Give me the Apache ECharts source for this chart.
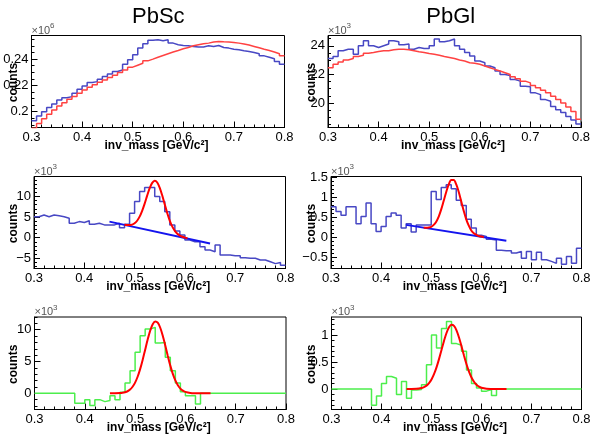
<!DOCTYPE html>
<html><head><meta charset="utf-8">
<script src="https://cdn.jsdelivr.net/npm/echarts@6/dist/echarts.min.js"></script>
<style>html,body{margin:0;padding:0;background:#fff}#c{width:591px;height:434px}</style>
</head><body><div id="c"></div>
<script>
// ---------- DATA ----------
const binLow = 0.3, binWidth = 0.01;
const xTickLabels = [0.3, 0.4, 0.5, 0.6, 0.7, 0.8];
const panelTitles = ['PbSc', 'PbGl'];
const xTitle = 'inv_mass [GeV/c²]';
const yTitle = 'counts';

// top row: same-event (blue) and mixed-event (red) spectra
const pbscSameEvt = [0.1931,0.1967,0.2000,0.2033,0.2059,0.2089,0.2107,0.2115,0.2140,0.2171,0.2196,0.2222,0.2229,0.2247,0.2268,0.2288,0.2306,0.2318,0.2362,0.2395,0.2433,0.2484,0.2517,0.2543,0.2548,0.2540,0.2548,0.2522,0.2510,0.2504,0.2502,0.2497,0.2492,0.2492,0.2502,0.2497,0.2504,0.2489,0.2484,0.2476,0.2471,0.2464,0.2459,0.2451,0.2441,0.2425,0.2415,0.2403,0.2382,0.2362];
const pbscMixedEvt = [0.1875,0.1911,0.1946,0.1980,0.2013,0.2043,0.2069,0.2094,0.2115,0.2140,0.2166,0.2186,0.2206,0.2224,0.2242,0.2260,0.2278,0.2298,0.2318,0.2339,0.2354,0.2369,0.2387,0.2400,0.2415,0.2428,0.2441,0.2454,0.2466,0.2479,0.2489,0.2502,0.2510,0.2517,0.2522,0.2530,0.2535,0.2532,0.2530,0.2527,0.2522,0.2515,0.2507,0.2497,0.2487,0.2476,0.2466,0.2454,0.2441,0.2425];
const pbglSameEvt = [23.11,23.25,23.65,23.76,23.76,23.41,24.0,24.35,24.0,23.88,24.0,24.12,24.35,24.28,24.07,24.12,23.76,23.88,23.81,23.81,24.0,24.47,24.28,24.35,24.47,24.0,23.76,23.53,23.29,22.94,22.82,22.59,22.47,22.24,22.0,21.93,21.65,21.53,21.18,21.13,20.71,20.59,20.24,20.12,19.76,19.53,19.34,19.06,18.82,18.54];
const pbglMixedEvt = [22.47,22.71,22.87,23.01,23.11,23.25,23.34,23.48,23.53,23.60,23.65,23.65,23.72,23.76,23.76,23.72,23.65,23.58,23.53,23.46,23.41,23.34,23.25,23.18,23.11,23.01,22.94,22.82,22.78,22.71,22.59,22.47,22.35,22.24,22.12,22.0,21.84,21.69,21.53,21.41,21.22,21.06,20.89,20.71,20.47,20.24,20.0,19.72,19.41,18.87];

// middle row: subtracted spectra
const pbscSubtracted = [5.1,5.5,5.1,5.5,5.3,5.1,4.7,3.5,3.9,3.7,4.1,3.25,3.5,3.1,3.1,3.1,3.5,2.4,3.25,5.9,8.8,11.2,12.2,12.2,10.0,8.8,6.3,3.1,1.6,0.65,-0.57,-1.0,-1.0,-2.2,-3.0,-3.4,-1.8,-4.2,-4.2,-4.4,-4.4,-4.9,-5.0,-5.0,-5.4,-5.4,-5.85,-6.3,-6.0,-6.7];
const pbglSubtracted = [0.77,0.65,0.55,0.77,0.77,0.34,0.52,0.86,0.34,0.14,0.27,0.52,0.61,0.55,0.23,0.34,0.13,0.31,0.31,0.31,1.15,0.95,1.25,1.32,1.22,0.93,0.80,0.45,0.23,0.05,0.02,-0.05,-0.07,-0.33,-0.34,-0.34,-0.40,-0.36,-0.53,-0.36,-0.57,-0.38,-0.57,-0.61,-0.66,-0.53,-0.68,-0.49,-0.66,-0.28];

// middle row fits: background line and peak+background
const bgLineX = [0.45, 0.65];
const pbscBgY = [3.9, -1.4];
const pbglBgY = [0.31, -0.09];
const pbscFitX = [0.48,0.485,0.49,0.495,0.50,0.505,0.51,0.515,0.52,0.525,0.53,0.535,0.54,0.545,0.55,0.555,0.56,0.565,0.57,0.575,0.58,0.585,0.59,0.595,0.60,0.605];
const pbscFitY = [3.15,3.07,3.06,3.18,3.50,4.11,5.10,6.51,8.27,10.21,12.0,13.29,13.81,13.39,12.11,10.22,8.05,5.93,4.10,2.68,1.66,0.96,0.51,0.22,0.01,-0.16];
const pbglFitX = [0.485,0.49,0.495,0.50,0.505,0.51,0.515,0.52,0.525,0.53,0.535,0.54,0.545,0.55,0.555,0.56,0.565,0.57,0.575,0.58,0.585,0.59,0.595,0.60,0.605];
const pbglFitY = [0.24,0.24,0.245,0.26,0.31,0.39,0.52,0.70,0.92,1.14,1.33,1.44,1.44,1.33,1.14,0.90,0.66,0.45,0.29,0.17,0.10,0.06,0.03,0.015,0.0];

// bottom row: background-subtracted signal and peak fit
const pbscSignal = [0,0,0,0,0,0,0,0,-1.57,-1.57,-1.0,-1.94,-1.0,-1.31,-1.15,-0.37,-1.0,0.16,1.62,3.56,6.44,9.06,10.1,10.37,7.9,8.0,5.65,3.56,1.62,0.26,-0.37,-0.37,-1.68,0,0,0,0,0,0,0,0,0,0,0,0,0,0,0,0,0];
const pbglSignal = [0,0,0,0,0,0,0,0,-0.30,-0.13,0.10,0.23,0.20,-0.10,0.14,-0.17,-0.02,-0.01,0.08,0.45,1.0,0.76,1.12,1.25,0.84,0.81,0.70,0.35,0.10,0.02,-0.04,-0.01,-0.12,0,0,0,0,0,0,0,0,0,0,0,0,0,0,0,0,0];
const sigFitX = [0.45,0.46,0.47,0.475,0.48,0.485,0.49,0.495,0.50,0.505,0.51,0.515,0.52,0.525,0.53,0.535,0.54,0.545,0.55,0.555,0.56,0.565,0.57,0.575,0.58,0.585,0.59,0.595,0.60,0.61,0.62,0.63,0.65];
const pbscSigFitY = [0.0,0.01,0.04,0.08,0.17,0.32,0.59,1.03,1.68,2.60,3.80,5.25,6.86,8.45,9.85,10.85,11.29,11.10,10.31,9.05,7.51,5.88,4.35,3.05,2.02,1.26,0.74,0.41,0.22,0.05,0.01,0.0,0.0];
const pbglSigFitY = [0.0,0.001,0.004,0.008,0.018,0.034,0.062,0.108,0.177,0.274,0.40,0.553,0.722,0.89,1.037,1.143,1.189,1.169,1.086,0.953,0.791,0.619,0.458,0.321,0.213,0.133,0.078,0.043,0.023,0.005,0.001,0.0,0.0];

// y tick labels per panel
const yTicksP1 = [0.2, 0.22, 0.24];
const yTicksP2 = [20, 22, 24];
const yTicksP3 = [-5, 0, 5, 10];
const yTicksP4 = [-0.5, 0, 0.5, 1, 1.5];
const yTicksP5 = [0, 5, 10];
const yTicksP6 = [0, 0.5, 1];
const exponents = ['6', '3', '3', '3', '3', '3'];

// ---------- LAYOUT / STYLE ----------
const FONT = 'Liberation Sans, Arial, sans-serif';
const BLUE_H = '#4848c4', RED_H = '#ff4242', GREEN_H = '#4cee4c', FIT_RED = '#ff0000', FIT_BLUE = '#1414ee';
const panels = [
  {l:31.5, r:284.5, t:35.5, b:127.5, ymin:0.188, ymax:0.258, ticks:yTicksP1, minor:0.005, col:0},
  {l:328,  r:581,   t:35.5, b:127.5, ymin:18.29, ymax:24.72, ticks:yTicksP2, minor:0.5, col:1},
  {l:34,   r:285.5, t:176.5, b:268.5, ymin:-7.48, ymax:14.85, ticks:yTicksP3, minor:1, col:0},
  {l:331,  r:581.5, t:176.5, b:268.5, ymin:-0.79, ymax:1.53, ticks:yTicksP4, minor:0.1, col:1},
  {l:34.5, r:286,   t:317, b:409.5, ymin:-2.55, ymax:12.0, ticks:yTicksP5, minor:1, col:0},
  {l:331.5,r:581.5, t:317, b:409.5, ymin:-0.38, ymax:1.333, ticks:yTicksP6, minor:0.1, col:1}
];

function histData(vals) {
  const d = vals.map((v, i) => [+(binLow + i * binWidth).toFixed(3), v]);
  d.push([+(binLow + vals.length * binWidth).toFixed(3), vals[vals.length - 1]]);
  return d;
}
function zip(xs, ys) { return xs.map((x, i) => [x, ys[i]]); }
function fmt(v) { return String(+(+v).toFixed(4)).replace('-', '\u2212'); }
function steps(lo, hi, st) {
  const out = [];
  let k = Math.ceil(lo / st - 1e-9);
  while (k * st <= hi + 1e-9) { out.push(+(k * st).toFixed(4)); k++; }
  return out;
}

const grids = [], xAxes = [], yAxes = [], series = [], graphics = [];
const xMinor = steps(0.3, 0.8, 0.02);

panels.forEach((p, i) => {
  grids.push({left:p.l, top:p.t, width:p.r - p.l, height:p.b - p.t, show:true,
    borderColor:'#000', borderWidth:1, backgroundColor:'transparent', outerBoundsMode:'none', containLabel:false});
  const common = {gridIndex:i, type:'value', splitLine:{show:false}, silent:true};
  xAxes.push(Object.assign({}, common, {min:0.3, max:0.8, position:'bottom',
    axisLine:{show:true, onZero:false, lineStyle:{color:'#000', width:1}},
    axisTick:{show:true, inside:true, length:6, customValues:xTickLabels, lineStyle:{color:'#000', width:1}},
    axisLabel:{show:true, customValues:xTickLabels, margin:3, fontSize:13, color:'#000', fontFamily:FONT, formatter:fmt}}));
  xAxes.push(Object.assign({}, common, {min:0.3, max:0.8, position:'bottom',
    axisLine:{show:false, onZero:false},
    axisTick:{show:true, inside:true, length:3, customValues:xMinor, lineStyle:{color:'#000', width:1}},
    axisLabel:{show:false}}));
  yAxes.push(Object.assign({}, common, {min:p.ymin, max:p.ymax, position:'left',
    axisLine:{show:true, onZero:false, lineStyle:{color:'#000', width:1}},
    axisTick:{show:true, inside:true, length:6, customValues:p.ticks, lineStyle:{color:'#000', width:1}},
    axisLabel:{show:true, customValues:p.ticks, margin:3, fontSize:13, color:'#000', fontFamily:FONT, formatter:fmt}}));
  yAxes.push(Object.assign({}, common, {min:p.ymin, max:p.ymax, position:'left',
    axisLine:{show:false, onZero:false},
    axisTick:{show:true, inside:true, length:3, customValues:steps(p.ymin, p.ymax, p.minor), lineStyle:{color:'#000', width:1}},
    axisLabel:{show:false}}));

  // texts
  graphics.push({type:'text', x:p.l, y:p.t - 4.8, silent:true,
    style:{text:'×10', fontSize:11, fontFamily:FONT, fill:'#555', textAlign:'left', textVerticalAlign:'middle'}});
  graphics.push({type:'text', x:p.l + 18.5, y:p.t - 9.3, silent:true,
    style:{text:exponents[i], fontSize:8, fontFamily:FONT, fill:'#555', textAlign:'left', textVerticalAlign:'middle'}});
  graphics.push({type:'text', x:(p.col === 0 ? 13.8 : 311.3), y:(p.t + p.b) / 2 + 1, rotation:Math.PI / 2, silent:true,
    style:{text:yTitle, fontSize:12, fontWeight:'bold', fontFamily:FONT, fill:'#000', textAlign:'center', textVerticalAlign:'middle'}});
  graphics.push({type:'text', x:(p.l + p.r) / 2 - 1.5, y:p.b + 18, silent:true,
    style:{text:xTitle, fontSize:12, fontWeight:'bold', fontFamily:FONT, fill:'#000', textAlign:'center', textVerticalAlign:'middle'}});
});

graphics.push({type:'text', x:158.3, y:17, silent:true,
  style:{text:panelTitles[0], fontSize:22, fontFamily:FONT, fill:'#000', textAlign:'center', textVerticalAlign:'middle'}});
graphics.push({type:'text', x:450.8, y:17, silent:true,
  style:{text:panelTitles[1], fontSize:22, fontFamily:FONT, fill:'#000', textAlign:'center', textVerticalAlign:'middle'}});

function hist(idx, vals, color) {
  return {type:'line', xAxisIndex:2 * idx, yAxisIndex:2 * idx, data:histData(vals), step:'end',
    symbol:'none', showSymbol:false, clip:true, lineStyle:{color:color, width:1.5}, silent:true};
}
function curve(idx, xs, ys, color, smooth) {
  return {type:'line', xAxisIndex:2 * idx, yAxisIndex:2 * idx, data:zip(xs, ys), smooth:smooth,
    symbol:'none', showSymbol:false, clip:true, lineStyle:{color:color, width:2}, silent:true};
}

series.push(hist(0, pbscSameEvt, BLUE_H), hist(0, pbscMixedEvt, RED_H));
series.push(hist(1, pbglSameEvt, BLUE_H), hist(1, pbglMixedEvt, RED_H));
series.push(hist(2, pbscSubtracted, BLUE_H), curve(2, bgLineX, pbscBgY, FIT_BLUE, false), curve(2, pbscFitX, pbscFitY, FIT_RED, 0.3));
series.push(hist(3, pbglSubtracted, BLUE_H), curve(3, bgLineX, pbglBgY, FIT_BLUE, false), curve(3, pbglFitX, pbglFitY, FIT_RED, 0.3));
series.push(hist(4, pbscSignal, GREEN_H), curve(4, sigFitX, pbscSigFitY, FIT_RED, 0.3));
series.push(hist(5, pbglSignal, GREEN_H), curve(5, sigFitX, pbglSigFitY, FIT_RED, 0.3));

const chart = echarts.init(document.getElementById('c'), null, {renderer:'canvas', width:591, height:434});
chart.setOption({
  animation:false,
  backgroundColor:'#fff',
  grid:grids, xAxis:xAxes, yAxis:yAxes, series:series, graphic:graphics,
  tooltip:{show:false}, legend:{show:false}
});
</script></body></html>
